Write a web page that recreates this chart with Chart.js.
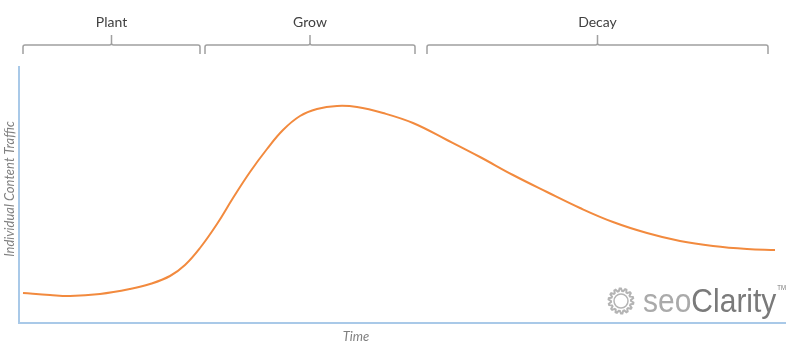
<!DOCTYPE html>
<html lang="en">
<head>
  <meta charset="UTF-8">
  <title>Content Lifecycle</title>
  <script src="https://cdn.jsdelivr.net/npm/chart.js"></script>
  <style>
    body { margin: 0; background: #fff; }
    #wrap { width: 800px; height: 352px; }
  </style>
</head>
<body>
  <div id="wrap"><canvas id="chart"></canvas></div>

  <script>
    // time (arbitrary units) and traffic (arbitrary units)
    const time = [4, 31, 51, 81, 111, 131, 151, 166, 181, 198, 214, 231, 248, 264, 281, 298, 318, 338,
                  364, 394, 428, 461, 494, 528, 561, 594, 628, 661, 694, 728, 756];
    const traffic = [30, 28, 27, 29, 34, 39, 47, 58, 75, 99, 125, 151, 174, 193, 207, 214, 217, 216,
                     210, 200, 183, 166, 148, 131, 115, 101, 90, 82, 77, 74, 73];

    // phases shown as brackets over the chart
    const phases = ['Plant', 'Grow', 'Decay'];
    const phaseStart = [4, 186, 408];
    const phaseEnd = [181, 396, 749];

    const axisColor = '#a9c9e8';
    const textGray = '#7f7f7f';

    const extras = {
      id: 'extras',
      afterDraw(chart) {
        const ctx = chart.ctx;
        const area = chart.chartArea;
        const xs = chart.scales.x;
        ctx.save();

        // phase brackets
        ctx.strokeStyle = '#a0a0a0';
        ctx.lineWidth = 1.5;
        ctx.fillStyle = '#404040';
        ctx.font = '14px Lato';
        ctx.textAlign = 'center';
        ctx.textBaseline = 'middle';
        for (let i = 0; i < phases.length; i++) {
          const a = xs.getPixelForValue(phaseStart[i]);
          const b = xs.getPixelForValue(phaseEnd[i]);
          const m = (a + b) / 2;
          ctx.beginPath();
          ctx.moveTo(a, 54);
          ctx.lineTo(a, 47);
          ctx.quadraticCurveTo(a, 45, a + 2, 45);
          ctx.lineTo(m - 2, 45);
          ctx.quadraticCurveTo(m, 45, m, 43);
          ctx.lineTo(m, 35);
          ctx.moveTo(m, 43);
          ctx.quadraticCurveTo(m, 45, m + 2, 45);
          ctx.lineTo(b - 2, 45);
          ctx.quadraticCurveTo(b, 45, b, 47);
          ctx.lineTo(b, 54);
          ctx.stroke();
          ctx.fillText(phases[i], m, 22);
        }

        // axis titles
        ctx.fillStyle = textGray;
        ctx.font = 'italic 13px Lato';
        ctx.fillText('Time', area.left + 0.44 * (area.right - area.left), 337);
        ctx.save();
        ctx.translate(10, 189);
        ctx.rotate(-Math.PI / 2);
        ctx.fillText('Individual Content Traffic', 0, 0);
        ctx.restore();

        // logo: toothed ring
        const gx = 621, gy = 301;
        const teeth = 14;
        ctx.strokeStyle = '#b4b4b4';
        ctx.lineWidth = 2;
        ctx.beginPath();
        for (let k = 0; k <= teeth * 4; k++) {
          const ang = k * Math.PI * 2 / (teeth * 4);
          const r = (k % 4 === 1 || k % 4 === 2) ? 12.5 : 10;
          const px = gx + Math.cos(ang) * r, py = gy + Math.sin(ang) * r;
          if (k === 0) ctx.moveTo(px, py); else ctx.lineTo(px, py);
        }
        ctx.closePath();
        ctx.stroke();
        ctx.lineWidth = 1.5;
        ctx.beginPath();
        ctx.arc(gx, gy, 7, 0, Math.PI * 2);
        ctx.stroke();

        ctx.textAlign = 'left';
        ctx.textBaseline = 'alphabetic';
        ctx.save();
        ctx.translate(643, 312);
        ctx.scale(1, 1.12);
        ctx.font = '30px "Liberation Sans"';
        ctx.fillStyle = '#aaaaaa';
        ctx.fillText('seo', 0, 0);
        const w = ctx.measureText('seo').width;
        ctx.fillStyle = '#7a7a7a';
        ctx.fillText('Clarity', w, 0);
        const w2 = ctx.measureText('Clarity').width;
        ctx.font = '6px "Liberation Sans"';
        ctx.fillText('TM', w + w2 + 1, -20);
        ctx.restore();

        ctx.restore();
      }
    };

    new Chart(document.getElementById('chart'), {
      type: 'line',
      data: {
        datasets: [{
          data: time.map((t, i) => ({ x: t, y: traffic[i] })),
          borderColor: '#f28a3e',
          borderWidth: 2,
          pointRadius: 0,
          tension: 0.4,
          fill: false
        }]
      },
      options: {
        responsive: true,
        maintainAspectRatio: false,
        animation: false,
        layout: { padding: { left: 19, right: 15, top: 67, bottom: 29 } },
        plugins: { legend: { display: false }, tooltip: { enabled: false } },
        scales: {
          x: {
            type: 'linear',
            min: 0,
            max: 766,
            grid: { display: false, drawTicks: false },
            ticks: { display: false },
            border: { color: axisColor, width: 2 }
          },
          y: {
            min: 0,
            max: 256,
            grid: { display: false, drawTicks: false },
            ticks: { display: false },
            border: { color: axisColor, width: 2 }
          }
        }
      },
      plugins: [extras]
    });
  </script>
</body>
</html>
